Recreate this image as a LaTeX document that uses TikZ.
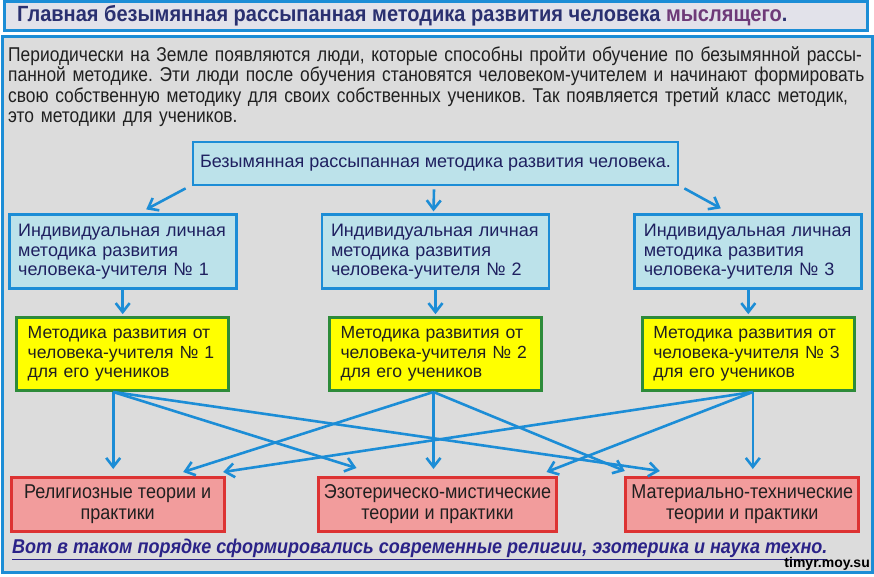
\documentclass[tikz,border=0pt]{standalone}
\usepackage{fontspec}
\setmainfont{Liberation Sans}
\newfontfamily\titlefont[FakeStretch=0.91]{Liberation Sans}
\newfontfamily\introfont[FakeStretch=0.87]{Liberation Sans}
\newfontfamily\narrowfont[FakeStretch=0.9]{Liberation Sans}
\usetikzlibrary{arrows.meta, positioning, calc}
\definecolor{frameblue}{HTML}{1C8DD6}
\definecolor{panelgray}{HTML}{DCDCDC}
\definecolor{titlegray}{HTML}{E2E2EA}
\definecolor{titleink}{HTML}{2A3070}
\definecolor{titleplum}{HTML}{6E3A78}
\definecolor{methodcyan}{HTML}{BCE2EA}
\definecolor{methodink}{HTML}{1F2060}
\definecolor{pupilyellow}{HTML}{FFFF00}
\definecolor{pupilgreen}{HTML}{2D8B3A}
\definecolor{practicepink}{HTML}{F29C9C}
\definecolor{practicered}{HTML}{DD3333}
\definecolor{bodyink}{HTML}{202020}
\definecolor{footink}{HTML}{2B2388}
\frenchspacing

\begin{document}
\begin{tikzpicture}[x=1pt, y=1pt, >={Straight Barb[length=9pt,width=14pt]},
    flow/.style={->, draw=frameblue, line width=2.6pt},
    methodbox/.style={draw=frameblue, fill=methodcyan, line width=2.8pt,
      text=methodink, font=\fontsize{18}{19.5}\selectfont,
      inner xsep=9pt, inner ysep=0pt},
    pupilbox/.style={draw=pupilgreen, fill=pupilyellow, line width=2.8pt,
      text=bodyink, font=\fontsize{17.6}{19.5}\selectfont,
      inner xsep=11pt, inner ysep=0pt, text width=190pt, align=left,
      minimum height=73pt},
    practicebox/.style={draw=practicered, fill=practicepink, line width=2.8pt,
      text=bodyink, font=\narrowfont\fontsize{20}{21}\selectfont,
      inner sep=0pt, align=center, minimum height=54pt}]
  \useasboundingbox (0,0) rectangle (874,576);

  % panels
  \draw[frameblue, line width=3pt, fill=titlegray] (4,545) rectangle (867,574);
  \draw[frameblue, line width=3pt, fill=panelgray] (2,4) rectangle (872,539);

  \node[anchor=west, text=titleink, inner sep=0pt,
    font=\titlefont\bfseries\fontsize{22}{24}\selectfont] (title) at (17,560)
    {Главная безымянная рассыпанная методика развития человека {\color{titleplum}мыслящего}.};

  \node[anchor=north west, text=bodyink, inner sep=0pt, text width=866pt, align=left,
    font=\introfont\fontsize{20}{20.5}\selectfont] (intro) at (8,530)
    {Периодически на Земле появляются люди, которые способны пройти обучение по безымянной рассы-\\
     панной методике. Эти люди после обучения становятся человеком-учителем и начинают формировать\\
     свою собственную методику для своих собственных учеников. Так появляется третий класс методик,\\
     это методики для учеников.};

  % methods
  \node[methodbox, minimum width=485pt, minimum height=43pt, inner sep=0pt] (top) at (435.5,412.5)
    {Безымянная рассыпанная методика развития человека.};
  \node[methodbox, below=27pt of top, text width=209pt, align=left, minimum height=74pt] (ind2)
    {Индивидуальная личная\\методика развития\\человека-учителя № 2};
  \node[methodbox, left=83pt of ind2, text width=209pt, align=left, minimum height=74pt] (ind1)
    {Индивидуальная личная\\методика развития\\человека-учителя № 1};
  \node[methodbox, right=83pt of ind2, text width=209pt, align=left, minimum height=74pt] (ind3)
    {Индивидуальная личная\\методика развития\\человека-учителя № 3};

  \foreach \i in {1,2,3}
    \node[pupilbox, below=26pt of ind\i] (stu\i)
      {Методика развития от\\человека-учителя № \i\\для его учеников};

  % practices
  \node[practicebox, minimum width=213pt, below=84pt of stu1, xshift=-5pt] (rel)
    {Религиозные теории и\\практики};
  \node[practicebox, minimum width=238pt, below=84pt of stu2, xshift=2pt] (eso)
    {Эзотерическо-мистические\\теории и практики};
  \node[practicebox, minimum width=233pt, below=84pt of stu3, xshift=-6pt] (mat)
    {Материально-технические\\теории и практики};

  \draw[flow] ([shift={(-6pt,-2pt)}]top.south west) -- ([shift={(23.5pt,4pt)}]ind1.north);
  \draw[flow] ([xshift=-1.5pt,yshift=-3pt]top.south) -- ([xshift=-2pt,yshift=2pt]ind2.north);
  \draw[flow] ([shift={(5pt,-2pt)}]top.south east) -- ([shift={(-27.5pt,5pt)}]ind3.north);

  \foreach \i in {1,2,3}
    \draw[flow] (ind\i.south) -- ([yshift=2pt]stu\i.north);

  \foreach \src/\sx/\dst/\dx/\dy in {1/-9.5/rel/-4.5/7, 1/-9.5/eso/-81/8,
      1/-9.5/mat/-82.5/5, 2/-2/rel/65.5/4, 2/-2/eso/-4/7, 2/-2/mat/-117.5/5,
      3/4.5/rel/105.5/4, 3/4.5/eso/109/4, 3/4.5/mat/10.5/7}
    \draw[flow] ([xshift=\sx pt]stu\src.south) -- ([shift={(\dx pt,\dy pt)}]\dst.north);

  \node[anchor=west, text=footink, inner sep=0pt,
    font=\narrowfont\bfseries\itshape\fontsize{20}{22}\selectfont] (moral) at (12,27)
    {\underline{Вот в таком порядке сформировались современные религии, эзотерика и наука техно.}};

  \node[anchor=east, inner sep=0pt, font=\bfseries\fontsize{14}{15}\selectfont] (mark)
    at (870,12) {timyr.moy.su};
\end{tikzpicture}
\end{document}
